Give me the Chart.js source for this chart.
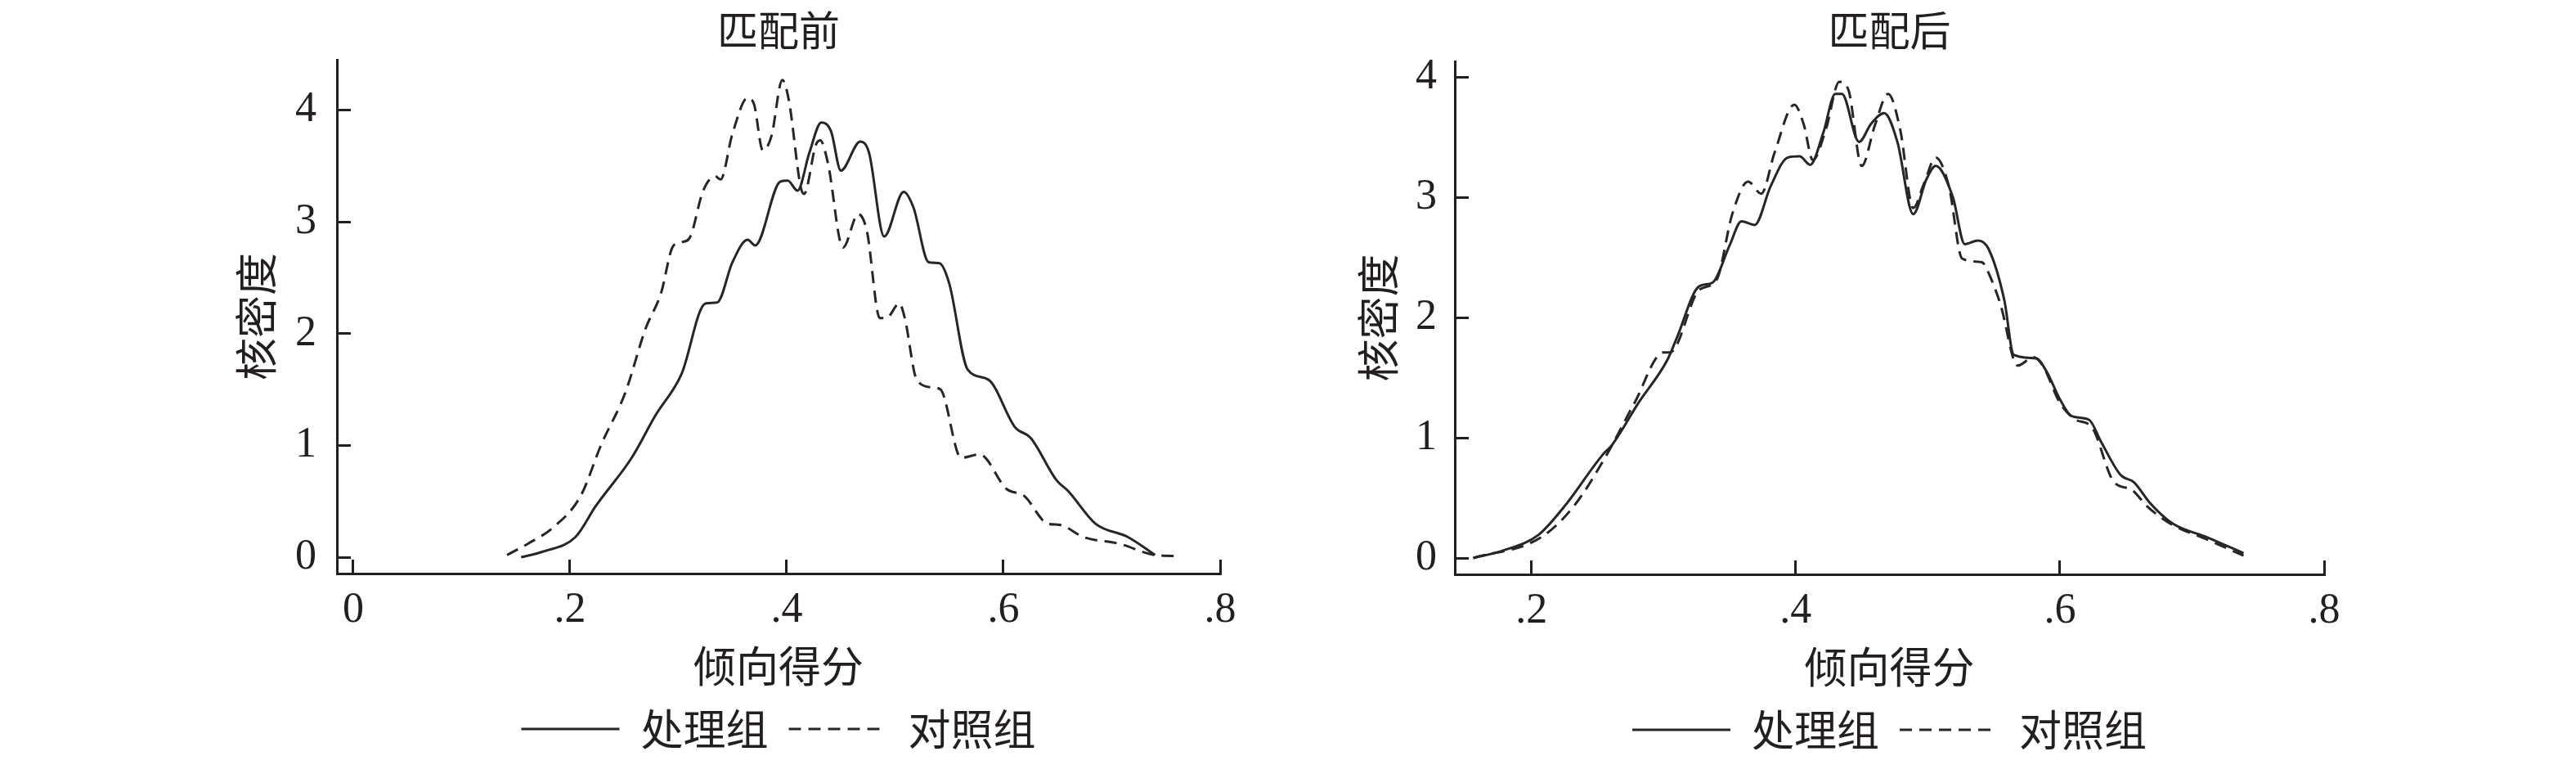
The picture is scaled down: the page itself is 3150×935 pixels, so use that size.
<!DOCTYPE html>
<html>
<head>
<meta charset="utf-8">
<script src="https://cdn.jsdelivr.net/npm/chart.js@4.4.0/dist/chart.umd.min.js"></script>
<style>
    html, body { margin: 0; padding: 0; background: #ffffff; }
    #wrap { position: relative; width: 3150px; height: 935px; }
    canvas { position: absolute; top: 0; }
    #before { left: 0; }
    #after { left: 1575px; }
</style>
</head>
<body>
<div id="wrap">
    <canvas id="before" width="1575" height="935"></canvas>
    <canvas id="after" width="1575" height="935"></canvas>
</div>
<script>
// Panel titles, axis titles, series names
const panelTitles = ['匹配前', '匹配后'];
const xTitle = '倾向得分';
const yTitle = '核密度';
const seriesNames = ['处理组', '对照组'];

// Tick positions and labels
const yTicks = [0, 1, 2, 3, 4];
const yTickLabels = ['0', '1', '2', '3', '4'];
const xTicksBefore = [0, 0.2, 0.4, 0.6, 0.8];
const xTickLabelsBefore = ['0', '.2', '.4', '.6', '.8'];
const xTicksAfter = [0.2, 0.4, 0.6, 0.8];
const xTickLabelsAfter = ['.2', '.4', '.6', '.8'];

// Before matching: treated group (solid)
const beforeTreatX = [0.155, 0.175, 0.205, 0.224, 0.257, 0.279, 0.303, 0.325, 0.336, 0.350, 0.364, 0.371, 0.394, 0.401, 0.410, 0.421, 0.432, 0.441, 0.450, 0.468, 0.476, 0.490, 0.508, 0.517, 0.531, 0.541, 0.550, 0.567, 0.586, 0.611, 0.625, 0.649, 0.660, 0.685, 0.715, 0.740];
const beforeTreatY = [0.00, 0.05, 0.18, 0.46, 0.89, 1.27, 1.64, 2.27, 2.28, 2.64, 2.84, 2.79, 3.36, 3.37, 3.28, 3.62, 3.89, 3.81, 3.46, 3.72, 3.62, 2.87, 3.27, 3.13, 2.64, 2.63, 2.45, 1.68, 1.59, 1.16, 1.07, 0.69, 0.59, 0.30, 0.18, 0.02];

// Before matching: control group (dashed)
const beforeCtrlX = [0.142, 0.161, 0.185, 0.210, 0.229, 0.251, 0.270, 0.284, 0.295, 0.303, 0.310, 0.323, 0.334, 0.339, 0.350, 0.364, 0.370, 0.378, 0.386, 0.396, 0.402, 0.413, 0.416, 0.427, 0.431, 0.438, 0.452, 0.466, 0.474, 0.486, 0.492, 0.504, 0.509, 0.520, 0.534, 0.542, 0.561, 0.578, 0.603, 0.619, 0.641, 0.652, 0.674, 0.707, 0.740, 0.762];
const beforeCtrlY = [0.02, 0.12, 0.27, 0.55, 1.01, 1.47, 2.05, 2.36, 2.78, 2.82, 2.85, 3.28, 3.41, 3.38, 3.79, 4.11, 4.05, 3.64, 3.77, 4.27, 4.09, 3.31, 3.25, 3.69, 3.73, 3.53, 2.77, 3.07, 2.92, 2.14, 2.14, 2.27, 2.14, 1.59, 1.52, 1.50, 0.89, 0.92, 0.61, 0.55, 0.30, 0.29, 0.18, 0.12, 0.02, 0.01];

// After matching: treated group (solid)
const afterTreatX = [0.156, 0.178, 0.205, 0.225, 0.254, 0.261, 0.281, 0.303, 0.310, 0.327, 0.337, 0.350, 0.359, 0.369, 0.381, 0.394, 0.403, 0.411, 0.421, 0.430, 0.435, 0.448, 0.457, 0.467, 0.477, 0.489, 0.499, 0.506, 0.519, 0.528, 0.538, 0.546, 0.558, 0.565, 0.582, 0.590, 0.600, 0.609, 0.622, 0.631, 0.646, 0.656, 0.668, 0.685, 0.712, 0.739];
const afterTreatY = [0.00, 0.06, 0.19, 0.43, 0.86, 0.94, 1.29, 1.65, 1.83, 2.26, 2.29, 2.60, 2.80, 2.77, 3.09, 3.33, 3.34, 3.27, 3.54, 3.86, 3.86, 3.46, 3.61, 3.70, 3.46, 2.86, 3.15, 3.26, 3.00, 2.61, 2.64, 2.57, 2.14, 1.69, 1.66, 1.55, 1.32, 1.18, 1.15, 0.97, 0.69, 0.63, 0.46, 0.29, 0.17, 0.04];

// After matching: control group (dashed)
const afterCtrlX = [0.156, 0.207, 0.232, 0.256, 0.278, 0.300, 0.305, 0.327, 0.340, 0.352, 0.364, 0.374, 0.384, 0.399, 0.406, 0.413, 0.423, 0.433, 0.440, 0.450, 0.460, 0.470, 0.479, 0.489, 0.497, 0.506, 0.516, 0.526, 0.541, 0.546, 0.555, 0.568, 0.580, 0.587, 0.600, 0.612, 0.624, 0.641, 0.654, 0.666, 0.683, 0.712, 0.739];
const afterCtrlY = [0.00, 0.17, 0.43, 0.84, 1.29, 1.71, 1.71, 2.23, 2.31, 2.86, 3.13, 3.03, 3.37, 3.77, 3.61, 3.31, 3.57, 3.96, 3.89, 3.26, 3.60, 3.86, 3.57, 2.91, 3.11, 3.33, 3.09, 2.49, 2.46, 2.37, 2.11, 1.60, 1.67, 1.60, 1.29, 1.15, 1.09, 0.63, 0.57, 0.43, 0.29, 0.15, 0.02];

const inkColor = '#231f20';
const lineColor = '#262626';
const dashPattern = [15, 9];
const numFont = '"Liberation Serif", "Times New Roman", serif';
const cjkFont = '"Noto Sans CJK SC", "Liberation Serif", serif';

function toPoints(xs, ys) {
    return xs.map((x, i) => ({ x: x, y: ys[i] }));
}

// legend samples: use the dataset's own dash, not the point style's
function legendLabels(chart) {
    const items = Chart.defaults.plugins.legend.labels.generateLabels(chart);
    items.forEach((item, i) => {
        const ds = chart.data.datasets[i];
        item.lineDash = ds.borderDash || [];
        item.strokeStyle = ds.borderColor;
        item.lineWidth = 3;
    });
    return items;
}

function makeChart(canvasId, o) {
    const ctx = document.getElementById(canvasId).getContext('2d');
    return new Chart(ctx, {
        type: 'line',
        data: {
            datasets: [
                {
                    label: seriesNames[0],
                    data: toPoints(o.treatX, o.treatY),
                    borderColor: lineColor,
                    backgroundColor: 'rgba(0,0,0,0)',
                    borderWidth: 3,
                    pointRadius: 0,
                    cubicInterpolationMode: 'monotone'
                },
                {
                    label: seriesNames[1],
                    data: toPoints(o.ctrlX, o.ctrlY),
                    borderColor: lineColor,
                    backgroundColor: 'rgba(0,0,0,0)',
                    borderWidth: 3,
                    borderDash: dashPattern,
                    pointRadius: 0,
                    cubicInterpolationMode: 'monotone'
                }
            ]
        },
        options: {
            responsive: false,
            animation: false,
            devicePixelRatio: 1,
            layout: { padding: { left: 0, right: o.padRight, top: 0, bottom: o.padBottom } },
            scales: {
                x: {
                    type: 'linear',
                    min: o.xMin,
                    max: 0.8,
                    border: { display: true, color: inkColor, width: 3 },
                    grid: { drawOnChartArea: false, drawTicks: true, tickLength: -17, tickWidth: 3, tickColor: inkColor },
                    ticks: {
                        autoSkip: false,
                        maxRotation: 0,
                        padding: 31,
                        color: inkColor,
                        font: { family: numFont, size: 52 },
                        callback: (v, i) => o.xLabels[i]
                    },
                    afterBuildTicks: s => { s.ticks = o.xTicks.map(v => ({ value: v })); },
                    afterFit: s => { s.height = 139; },
                    title: {
                        display: true,
                        text: xTitle,
                        color: inkColor,
                        font: { family: cjkFont, size: 52, lineHeight: 1 },
                        padding: 0
                    }
                },
                y: {
                    type: 'linear',
                    min: o.yMin,
                    max: o.yMax,
                    border: { display: true, color: inkColor, width: 3 },
                    grid: { drawOnChartArea: false, drawTicks: true, tickLength: -17, tickWidth: 3, tickColor: inkColor },
                    ticks: {
                        autoSkip: false,
                        padding: o.yTickPad,
                        color: inkColor,
                        font: { family: numFont, size: 52 },
                        callback: (v, i) => yTickLabels[i]
                    },
                    afterBuildTicks: s => { s.ticks = yTicks.map(v => ({ value: v })); },
                    afterFit: s => { s.width = o.yWidth; },
                    title: {
                        display: true,
                        text: yTitle,
                        color: inkColor,
                        font: { family: cjkFont, size: 52, lineHeight: 1 },
                        padding: { top: o.yTitlePad, bottom: 0 }
                    }
                }
            },
            plugins: {
                title: {
                    display: true,
                    text: o.title,
                    fullSize: false,
                    color: inkColor,
                    font: { family: cjkFont, size: 50, weight: 'normal', lineHeight: 1 },
                    padding: { top: 12, bottom: o.titlePadBottom }
                },
                legend: {
                    position: 'bottom',
                    fullSize: false,
                    labels: {
                        usePointStyle: true,
                        pointStyle: 'line',
                        pointStyleWidth: 120,
                        padding: 25,
                        color: inkColor,
                        font: { family: cjkFont, size: 52 },
                        generateLabels: legendLabels
                    }
                },
                tooltip: { enabled: false }
            }
        }
    });
}

makeChart('before', {
    title: panelTitles[0],
    treatX: beforeTreatX, treatY: beforeTreatY,
    ctrlX: beforeCtrlX, ctrlY: beforeCtrlY,
    xMin: -0.015, yMin: -0.146, yMax: 4.45,
    xTicks: xTicksBefore, xLabels: xTickLabelsBefore,
    yWidth: 412, yTitlePad: 287, yTickPad: 42,
    titlePadBottom: 11, padBottom: 8, padRight: 83
});

makeChart('after', {
    title: panelTitles[1],
    treatX: afterTreatX, treatY: afterTreatY,
    ctrlX: afterCtrlX, ctrlY: afterCtrlY,
    xMin: 0.142, yMin: -0.136, yMax: 4.13,
    xTicks: xTicksAfter, xLabels: xTickLabelsAfter,
    yWidth: 204, yTitlePad: 84, yTickPad: 39,
    titlePadBottom: 13, padBottom: 7, padRight: 308
});
</script>
</body>
</html>
